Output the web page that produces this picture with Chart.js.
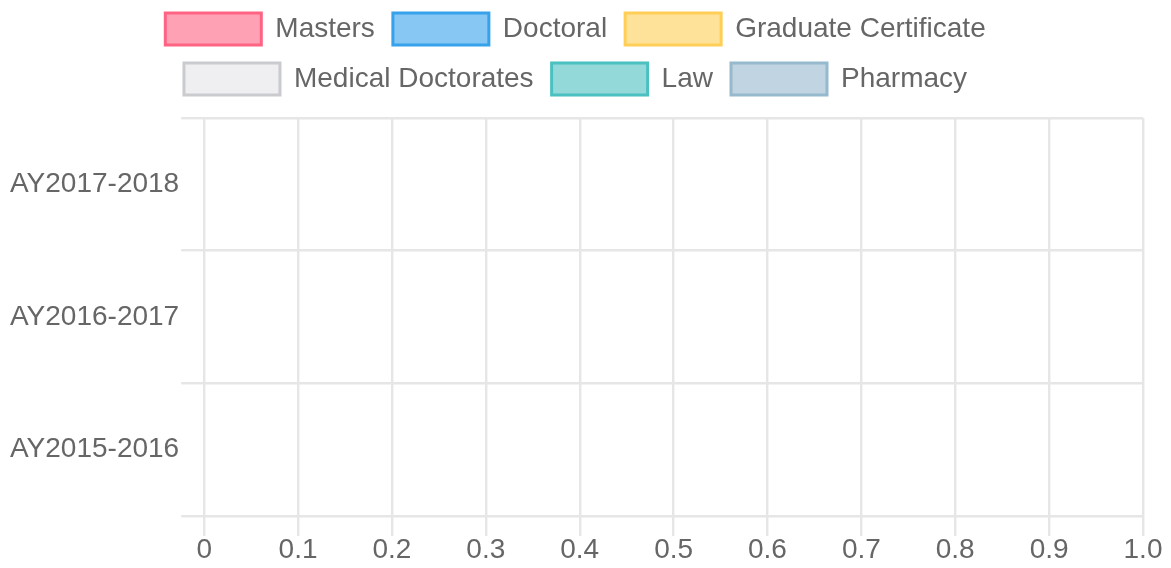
<!DOCTYPE html>
<html>
<head>
<meta charset="utf-8">
<script src="https://cdn.jsdelivr.net/npm/chart.js@4"></script>
<style>
  html, body { margin: 0; padding: 0; background: #fff; }
  #wrap { width: 1171px; height: 568px; }
</style>
</head>
<body>
<div id="wrap"><canvas id="degreeChart"></canvas></div>
<script>
// academic years, top to bottom
const years = ["AY2017-2018", "AY2016-2017", "AY2015-2016"];

// degree counts per year (nothing reported, chart is empty)
const masters = [0, 0, 0];
const doctoral = [0, 0, 0];
const gradCertificate = [0, 0, 0];
const medicalDoctorates = [0, 0, 0];
const law = [0, 0, 0];
const pharmacy = [0, 0, 0];

const xTickLabels = ["0", "0.1", "0.2", "0.3", "0.4", "0.5", "0.6", "0.7", "0.8", "0.9", "1.0"];

const gridColor = "#e6e6e6";
const textColor = "#666";
const font = "'Liberation Sans', Arial, Helvetica, sans-serif";

function series(label, data, rgb, alpha) {
  return {
    label: label,
    data: data,
    backgroundColor: `rgba(${rgb},${alpha})`,
    borderColor: `rgb(${rgb})`,
    borderWidth: 3
  };
}

// a bit of space between legend and plot
const legendMargin = {
  id: "legendMargin",
  beforeInit(chart) {
    const fit = chart.legend.fit;
    chart.legend.fit = function () {
      fit.bind(chart.legend)();
      this.height += 13;
    };
  }
};

const ctx = document.getElementById("degreeChart").getContext("2d");
new Chart(ctx, {
  type: "bar",
  data: {
    labels: years,
    datasets: [
      series("Masters", masters, "255,99,132", 0.6),
      series("Doctoral", doctoral, "54,162,235", 0.6),
      series("Graduate Certificate", gradCertificate, "255,206,86", 0.6),
      series("Medical Doctorates", medicalDoctorates, "201,203,207", 0.3),
      series("Law", law, "75,192,192", 0.6),
      series("Pharmacy", pharmacy, "150,185,205", 0.6)
    ]
  },
  plugins: [legendMargin],
  options: {
    indexAxis: "y",
    responsive: true,
    maintainAspectRatio: false,
    animation: false,
    layout: { padding: { left: 8, right: 28, top: -5, bottom: 4 } },
    plugins: {
      tooltip: { enabled: false },
      legend: {
        position: "top",
        labels: {
          color: textColor,
          font: { family: font, size: 28 },
          boxWidth: 96,
          boxHeight: 32,
          padding: 18
        }
      }
    },
    scales: {
      x: {
        min: 0,
        max: 1,
        ticks: {
          stepSize: 0.1,
          color: textColor,
          font: { family: font, size: 28, lineHeight: 1 },
          maxRotation: 0,
          padding: 0,
          callback: (v, i) => xTickLabels[i]
        },
        grid: { color: gridColor, lineWidth: 2.4, tickLength: 20 },
        border: { display: false }
      },
      y: {
        ticks: {
          color: textColor,
          font: { family: font, size: 28 },
          padding: 2
        },
        grid: { color: gridColor, lineWidth: 2.4, tickLength: 23, offset: true },
        border: { display: false }
      }
    }
  }
});
</script>
</body>
</html>
